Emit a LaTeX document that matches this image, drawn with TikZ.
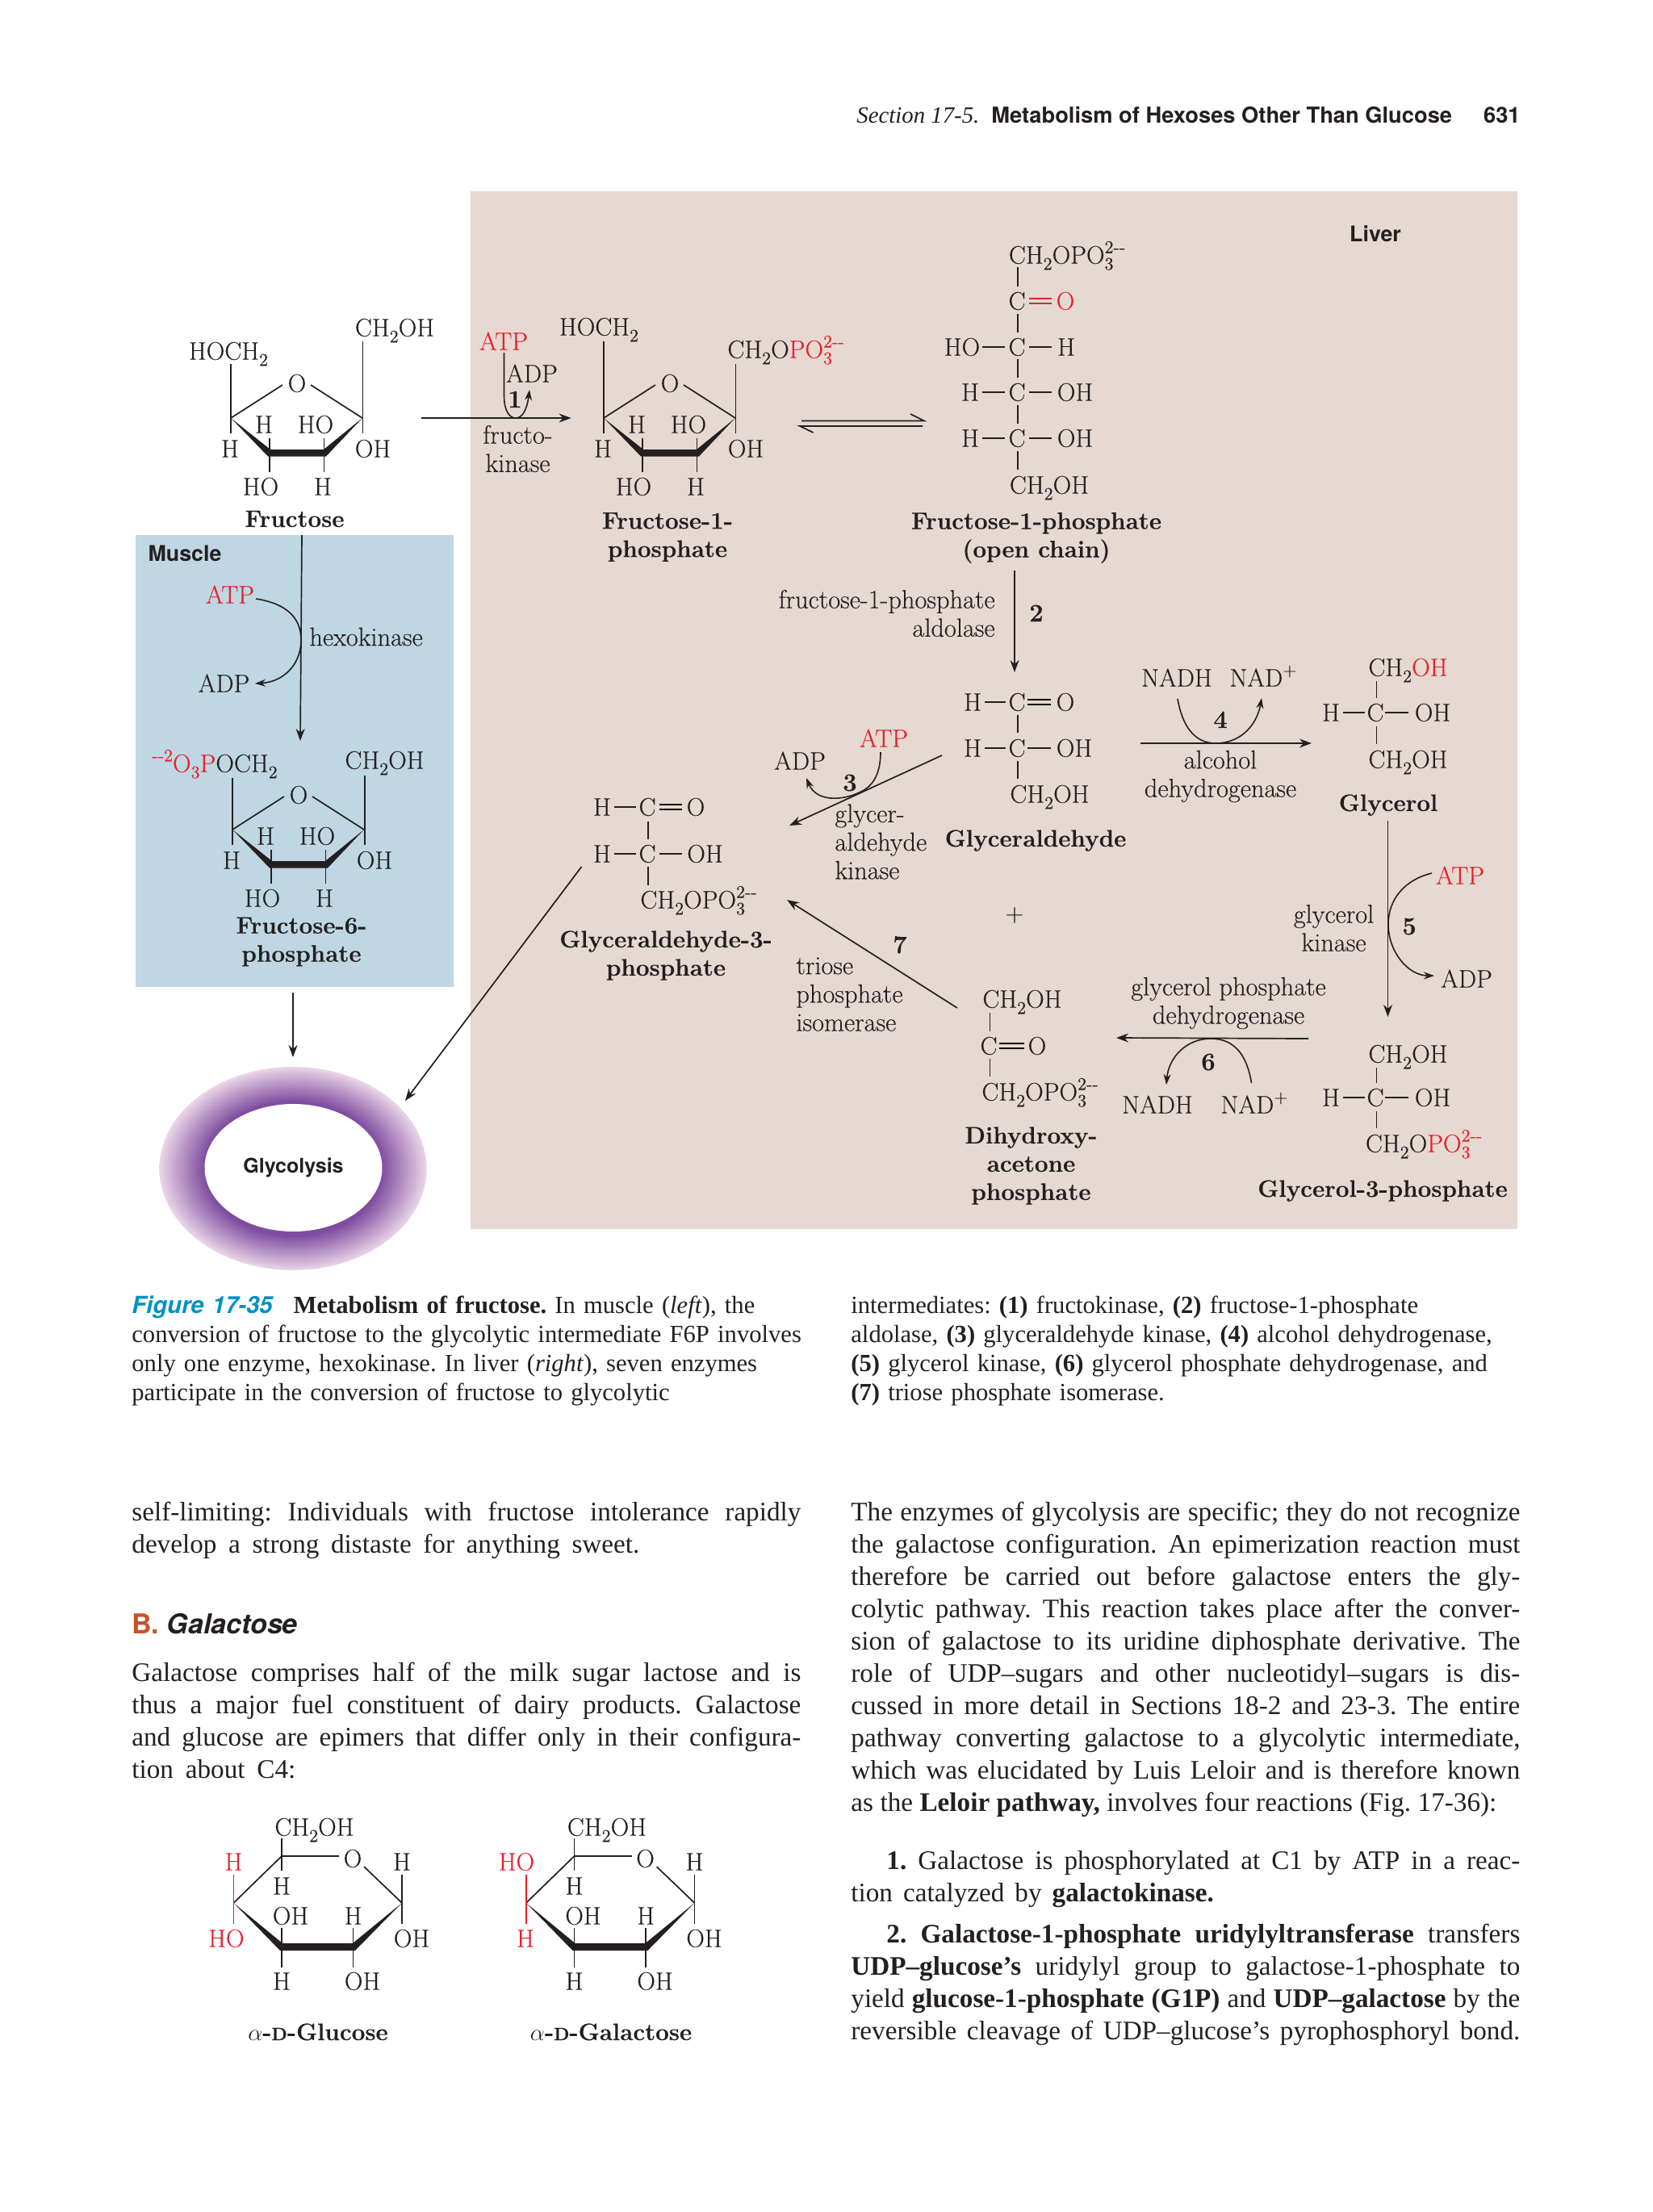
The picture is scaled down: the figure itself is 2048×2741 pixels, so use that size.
\documentclass[tikz,border=0pt]{standalone}
\usepackage{fontspec}
\setsansfont{TeX Gyre Heros}
\newfontfamily\bodyfont{Liberation Serif}
\newfontfamily\chemfam[FakeBold=0.2,BoldFeatures={FakeBold=0.25}]{Latin Modern Roman}
\usepackage{xcolor}
\usetikzlibrary{arrows.meta,shapes.geometric}

\definecolor{liverbg}{HTML}{E5D9D2}
\definecolor{musclebg}{HTML}{BED7E3}
\definecolor{inkred}{HTML}{E8202C}
\definecolor{inkdark}{HTML}{231F20}
\definecolor{figblue}{HTML}{0091C4}
\definecolor{headorange}{HTML}{C8532A}
\definecolor{ringdark}{HTML}{7F4C9F}
\definecolor{ringpale}{HTML}{EAD6E8}
\pgfdeclareradialshading{glyring}{\pgfpointorigin}{color(0bp)=(ringdark); color(16.5bp)=(ringdark); color(25bp)=(ringpale); color(50bp)=(ringpale)}

\newcommand{\chemfont}{\chemfam\fontsize{15.7}{18}\selectfont}
\newcommand{\namefont}{\chemfam\fontsize{14.8}{17.5}\bfseries\selectfont}
\newcommand{\lowr}[1]{\raisebox{-0.24em}{\fontsize{11}{11}\selectfont #1}}
\newcommand{\chsup}[1]{\raisebox{0.42em}{\fontsize{11}{11}\selectfont #1}}
\newcommand{\POsup}{\makebox[0pt][l]{\chsup{2--}}\lowr{3}\hspace{1em}}
\newcommand{\lastl}[2]{\makebox[#1][s]{\spaceskip=0.25em plus 0.4em minus 0.1em\relax\strut #2}}
\newcommand{\fl}[1]{\lastl{414.5pt}{#1}\\}
\newcommand{\alphad}[1]{$\alpha${\bfseries -{\fontsize{11}{11}\selectfont D}-#1}}

% furanose ring, shared by the three fructose structures
\newcommand{\furanose}[3]{%
  \begin{scope}[shift={(#2,#3)}, name prefix=#1-]
    \draw [bond] (286,518) -- (350,477);
    \draw [bond] (385,477) -- (449,518);
    \fill [inkdark] (286,518) -- (335,557) -- (401,557) -- (449,518) -- (404,565.5) -- (332,565.5) -- cycle;
    \draw [bond] (334,543) -- (334,585);
    \draw [bond] (401.5,543) -- (401.5,585);
    \node (o) [chem] at (368,475) {O};
    \node (h1) [chem] at (327,526) {H};
    \node (ho1) [chem] at (391,526) {HO};
    \node (h2) [chem] at (285,556) {H};
    \node (oh) [chem] at (462,556) {OH};
    \node (ho2) [chem] at (323,603) {HO};
    \node (h3) [chem] at (400,603) {H};
  \end{scope}}

% pyranose ring, the two red groups swap between the sugars
\newcommand{\pyranose}[6]{%
  \begin{scope}[shift={(#2,1)}, name prefix=#1-]
    \draw [bond] (349,2299) -- (420,2299);
    \draw [bond] (451,2312) -- (498,2357);
    \draw [bond] (349,2299) -- (289.4,2357);
    \fill [inkdark] (289.4,2357) -- (350,2407) -- (437,2407) -- (498,2357) -- (440,2416) -- (347,2416) -- cycle;
    \draw [bond] (349,2277) -- (349,2317);
    \draw [bond] (498,2322) -- (498,2383);
    \draw [bond, inkred] (289.4,2322) -- (289.4,2383);
    \draw [bond] (349,2388) -- (349,2437);
    \draw [bond] (437.6,2388) -- (437.6,2437);
    \node (ch) [chem, anchor=west] at (340,2263) {CH\lowr{2}OH};
    \node (o) [chem] at (437,2302) {O};
    \node (h1) [chem] at (498,2306) {H};
    \node (top) [chem, text=inkred] at (#4,2306) {#3};
    \node (h2) [chem] at (349,2336) {H};
    \node (oh1) [chem] at (360,2373) {OH};
    \node (h3) [chem] at (437.6,2373) {H};
    \node (bot) [chem, text=inkred] at (#6,2401) {#5};
    \node (oh2) [chem] at (510,2401) {OH};
    \node (h4) [chem] at (349,2454) {H};
    \node (oh3) [chem] at (449,2454) {OH};
  \end{scope}}

\begin{document}
\begin{tikzpicture}[
    x=0.5pt, y=-0.5pt,
    text=inkdark,
    bond/.style={line width=0.85pt, draw=inkdark},
    dbond/.style={line width=0.75pt, double=liverbg, double distance=2.2pt},
    chem/.style={inner sep=0pt, font=\chemfont, text height=10.7pt, text depth=0pt},
    enzyme/.style={inner sep=0pt, font=\chemfam\fontsize{16.2}{17.6}\selectfont},
    chemname/.style={inner sep=0pt, font=\namefont, text height=10pt, text depth=0pt},
    stepnum/.style={inner sep=0pt, font=\chemfam\fontsize{15.5}{18}\bfseries\selectfont, text height=10pt, text depth=0pt},
    regionname/.style={inner sep=0pt, font=\fontsize{13.4}{15}\sffamily\bfseries\selectfont},
    rxn/.style={-{Stealth[length=7.5pt, width=5.5pt]}, line width=0.85pt, draw=inkdark},
    cofactor/.style={-{Stealth[length=6.5pt, width=4.5pt]}, line width=0.8pt, draw=inkdark},
    bodytext/.style={inner sep=0pt, anchor=north west, text width=414.5pt, align=left, font=\bodyfont\frenchspacing\fontsize{16.6}{20}\selectfont},
    captiontext/.style={inner sep=0pt, anchor=north west, text width=440pt, align=left, font=\bodyfont\frenchspacing\fontsize{15.3}{18}\selectfont}
  ]
    \useasboundingbox (0,0) rectangle (2048,2741);

    % panels
    \fill [liverbg] (583,237) rectangle (1880,1523);
    \fill [musclebg] (168,663) rectangle (562,1223);
    \node (liver) [regionname] at (1704,290) {Liver};
    \node (muscle) [regionname] at (229,686) {Muscle};

    % running head
    \node (section) [inner sep=0pt, anchor=base west, font=\bodyfont\itshape\fontsize{14.4}{18}\selectfont] at (1061,152) {Section 17-5.};
    \node (headline) [inner sep=0pt, anchor=base west, font=\fontsize{13.65}{18}\sffamily\bfseries\selectfont] at (1228,152) {Metabolism of Hexoses Other Than Glucose};
    \node (pageno) [inner sep=0pt, anchor=base east, font=\fontsize{13.65}{18}\sffamily\bfseries\selectfont] at (1884,152) {631};

    % fructose
    \furanose{fru}{0}{0}
    \draw [bond] (286,451) -- (286,537);
    \draw [bond] (449.6,423) -- (449.6,537);
    \node (fruhoch) [chem] at (283,435) {HOCH\lowr{2}};
    \node (fruch) [chem] at (489,406) {CH\lowr{2}OH};
    \node (fruname) [chemname] at (365,643) {Fructose};

    % fructose-1-phosphate, ring form
    \furanose{fop}{462}{0}
    \draw [bond] (748,423) -- (748,537);
    \draw [bond] (911.6,451) -- (911.6,537);
    \node (fophoch) [chem] at (742,405) {HOCH\lowr{2}};
    \node (fopch) [chem, anchor=west] at (901,433) {CH\lowr{2}O\textcolor{inkred}{PO\POsup}};
    \node (fopname) [chemname, align=center, text height=, text depth=] at (827,665.5) {Fructose-1-\\phosphate};

    % fructokinase
    \coordinate (froma) at (522,518);
    \coordinate (fromb) at (707.6,518);
    \draw [rxn] (froma) -- (fromb);
    \node (atpa) [chem, text=inkred] at (624,423) {ATP};
    \node (adpa) [chem] at (659,463) {ADP};
    \node (stepa) [stepnum] at (638,495) {1};
    \node (enza) [enzyme, align=center] at (641.5,556) {fructo-\\kinase};
    \coordinate (atpaend) at (624.5,437);
    \coordinate (adpaend) at (656,483);
    \draw [cofactor] (atpaend) -- (624.5,490) .. controls (624.5,510) and (632,519) .. (640,518) .. controls (650,517) and (654,500) .. (adpaend);

    % ring opening
    \draw [bond] (993,521.5) -- (1145,521.5) -- (1128,513);
    \draw [bond] (1143,528) -- (991,528) -- (1007.5,536);

    % open chain
    \node (ocph) [chem, anchor=west] at (1249.5,316) {CH\lowr{2}OPO\POsup};
    \node (occ1) [chem] at (1260,373) {C};
    \draw [dbond, inkred] (1275,373) -- (1303,373);
    \node (oco) [chem, text=inkred] at (1320,373) {O};
    \node (ocho) [chem] at (1192,430) {HO};
    \node (occ2) [chem] at (1260,430) {C};
    \node (och) [chem] at (1321,430) {H};
    \node (och2) [chem] at (1202,486) {H};
    \node (occ3) [chem] at (1260,486) {C};
    \node (ocoh2) [chem] at (1332,486) {OH};
    \node (och3) [chem] at (1202,543) {H};
    \node (occ4) [chem] at (1260,543) {C};
    \node (ocoh3) [chem] at (1332,543) {OH};
    \node (occh) [chem, anchor=west] at (1250.5,601) {CH\lowr{2}OH};
    \foreach \ya/\yb in {331/355, 389/412, 445/468, 502/525, 559/582}
      \draw [bond] (1261,\ya) -- (1261,\yb);
    \foreach \yr in {430, 486, 543} {
      \draw [bond] (1217,\yr) -- (1245,\yr);
      \draw [bond] (1275,\yr) -- (1303,\yr);
    }
    \node (ocname) [chemname, align=center, text height=, text depth=] at (1284,666.5) {Fructose-1-phosphate\\(open chain)};

    % aldolase
    \coordinate (fromc) at (1257,707);
    \coordinate (glarrow) at (1257,833);
    \draw [rxn] (fromc) -- (glarrow);
    \node (enzb) [enzyme, anchor=east, align=right] at (1233,760) {fructose-1-phosphate\\aldolase};
    \node (stepb) [stepnum] at (1284,760) {2};

    % glyceraldehyde
    \node (glh1) [chem] at (1205,870) {H};
    \node (glc1) [chem] at (1260,870) {C};
    \draw [dbond] (1273,870) -- (1302,870);
    \node (glo) [chem] at (1320,870) {O};
    \node (glh2) [chem] at (1205,927) {H};
    \node (glc2) [chem] at (1260,927) {C};
    \node (gloh) [chem] at (1331,927) {OH};
    \node (glch) [chem, anchor=west] at (1251,984) {CH\lowr{2}OH};
    \draw [bond] (1220,870) -- (1246,870);
    \draw [bond] (1220,927) -- (1246,927);
    \draw [bond] (1273,927) -- (1302,927);
    \draw [bond] (1261,886) -- (1261,908);
    \draw [bond] (1261,943) -- (1261,965);
    \node (glname) [chemname] at (1283,1039) {Glyceraldehyde};

    % glyceraldehyde kinase
    \coordinate (gla) at (1167,936);
    \coordinate (glb) at (978,1023);
    \draw [rxn] (gla) -- (glb);
    \node (atpc) [chem, text=inkred] at (1095,915) {ATP};
    \node (adpc) [chem] at (991,943) {ADP};
    \node (stepc) [stepnum] at (1053,970) {3};
    \node (enzc) [enzyme, anchor=north west, align=left] at (1034,996) {glycer-\\aldehyde\\kinase};
    \coordinate (atpcend) at (1091,932);
    \coordinate (adpcend) at (999,964);
    \draw [cofactor] (atpcend) .. controls (1091,955) and (1084,970) .. (1072,978) .. controls (1050,992) and (1012,996) .. (adpcend);

    % glyceraldehyde-3-phosphate
    \node (gaph1) [chem] at (746,1000) {H};
    \node (gapc1) [chem] at (802,1000) {C};
    \draw [dbond] (817,1000) -- (845,1000);
    \node (gapo) [chem] at (862,1000) {O};
    \node (gaph2) [chem] at (746,1058) {H};
    \node (gapc2) [chem] at (802,1058) {C};
    \node (gapoh) [chem] at (873.5,1058) {OH};
    \node (gapph) [chem, anchor=west] at (793,1115) {CH\lowr{2}OPO\POsup};
    \draw [bond] (761,1000) -- (788,1000);
    \draw [bond] (761,1058) -- (788,1058);
    \draw [bond] (817,1058) -- (845,1058);
    \draw [bond] (803,1018) -- (803,1040);
    \draw [bond] (803,1074) -- (803,1097);
    \node (gapname) [chemname, align=center, text height=, text depth=] at (825,1184) {Glyceraldehyde-3-\\phosphate};

    % alcohol dehydrogenase
    \coordinate (fromd) at (1413,921);
    \coordinate (tod) at (1625,921);
    \draw [rxn] (fromd) -- (tod);
    \node (nadhd) [chem] at (1458,840) {NADH};
    \node (nadd) [chem] at (1565,840) {NAD\chsup{+}};
    \node (stepd) [stepnum] at (1512,892) {4};
    \node (enzd) [enzyme, align=center] at (1512,962) {alcohol\\dehydrogenase};
    \coordinate (nadhdend) at (1459,866);
    \coordinate (naddend) at (1563,865);
    \draw [cofactor] (nadhdend) .. controls (1465,900) and (1480,921) .. (1506,921) .. controls (1540,921) and (1558,895) .. (naddend);

    % glycerol
    \node (golch1) [chem, anchor=west] at (1695,827) {CH\lowr{2}\textcolor{inkred}{OH}};
    \node (golh) [chem] at (1649,883) {H};
    \node (golc) [chem] at (1704,883) {C};
    \node (goloh) [chem] at (1775,883) {OH};
    \node (golch2) [chem, anchor=west] at (1695,941) {CH\lowr{2}OH};
    \draw [bond] (1664,883) -- (1691,883);
    \draw [bond] (1716,883) -- (1745,883);
    \draw [bond] (1705.5,844) -- (1705.5,865);
    \draw [bond] (1705.5,900) -- (1705.5,922);
    \node (golname) [chemname] at (1720,995) {Glycerol};

    % glycerol kinase
    \coordinate (frome) at (1719.5,1017);
    \coordinate (toe) at (1719.5,1260);
    \draw [rxn] (frome) -- (toe);
    \node (atpe) [chem, text=inkred] at (1809,1085) {ATP};
    \node (adpe) [chem] at (1817,1213) {ADP};
    \node (stepe) [stepnum] at (1746,1148) {5};
    \node (enze) [enzyme, align=center] at (1652.5,1150) {glycerol\\kinase};
    \coordinate (atpeend) at (1774,1082);
    \coordinate (adpeend) at (1777,1209);
    \draw [cofactor] (atpeend) .. controls (1740,1090) and (1720,1115) .. (1720,1145) .. controls (1720,1180) and (1745,1209) .. (adpeend);

    % glycerol-3-phosphate
    \node (gopch) [chem, anchor=west] at (1695,1306) {CH\lowr{2}OH};
    \node (goph) [chem] at (1649,1360) {H};
    \node (gopc) [chem] at (1704,1360) {C};
    \node (gopoh) [chem] at (1775,1360) {OH};
    \node (gopph) [chem, anchor=west] at (1691.5,1417) {CH\lowr{2}O\textcolor{inkred}{PO\POsup}};
    \draw [bond] (1664,1360) -- (1691,1360);
    \draw [bond] (1716,1360) -- (1745,1360);
    \draw [bond] (1705.5,1323) -- (1705.5,1342);
    \draw [bond] (1705.5,1377) -- (1705.5,1398);
    \node (gopname) [chemname] at (1713,1473) {Glycerol-3-phosphate};

    % glycerol phosphate dehydrogenase
    \coordinate (fromf) at (1621,1287);
    \coordinate (tof) at (1383,1286);
    \draw [rxn] (fromf) -- (tof);
    \node (enzf) [enzyme, align=center] at (1522,1243) {glycerol phosphate\\dehydrogenase};
    \node (stepf) [stepnum] at (1497,1316) {6};
    \node (nadhf) [chem] at (1434,1369) {NADH};
    \node (nadf) [chem] at (1554,1369) {NAD\chsup{+}};
    \coordinate (nadfend) at (1550.5,1342);
    \coordinate (nadhfend) at (1445,1344);
    \draw [cofactor] (nadfend) .. controls (1545,1308) and (1530,1287) .. (1500,1287) .. controls (1470,1287) and (1448,1310) .. (nadhfend);

    % dihydroxyacetone phosphate
    \node (dapch) [chem, anchor=west] at (1217,1238) {CH\lowr{2}OH};
    \node (dapc) [chem] at (1225,1296) {C};
    \draw [dbond] (1238,1296) -- (1269,1296);
    \node (dapo) [chem] at (1285,1296) {O};
    \node (dapph) [chem, anchor=west] at (1216,1353) {CH\lowr{2}OPO\POsup};
    \draw [bond] (1226.5,1255) -- (1226.5,1278);
    \draw [bond] (1226.5,1312) -- (1226.5,1334);
    \node (dapname) [chemname, align=center, text height=, text depth=] at (1277.5,1444.5) {Dihydroxy-\\acetone\\phosphate};

    % triose phosphate isomerase
    \coordinate (fromg) at (1186,1249);
    \coordinate (tog) at (975,1115);
    \draw [rxn] (fromg) -- (tog);
    \node (stepg) [stepnum] at (1115,1171) {7};
    \node (enzg) [enzyme, anchor=west, align=left] at (986,1232) {triose\\phosphate\\isomerase};
    \node (plussign) [chem] at (1257,1131) {+};

    % muscle path
    \coordinate (fromm) at (374,663);
    \coordinate (tom) at (372,918);
    \draw [rxn] (fromm) -- (tom);
    \node (atpm) [chem, text=inkred] at (285,737) {ATP};
    \node (adpm) [chem] at (277.5,847) {ADP};
    \node (enzm) [enzyme] at (453.6,789) {hexokinase};
    \coordinate (atpmend) at (317,742);
    \coordinate (adpmend) at (316,847);
    \draw [cofactor] (atpmend) .. controls (350,747) and (374,762) .. (373,795) .. controls (372,825) and (350,845) .. (adpmend);

    % fructose-6-phosphate
    \furanose{fsp}{2}{510}
    \draw [bond] (288,964) -- (288,1047);
    \draw [bond] (452,961) -- (452,1047);
    \node (fsphoch) [chem, anchor=west] at (188,946) {\textcolor{inkred}{\chsup{--2}O\lowr{3}P}OCH\lowr{2}};
    \node (fspch) [chem] at (476.5,942) {CH\lowr{2}OH};
    \node (fspname) [chemname, align=center, text height=, text depth=] at (373.5,1167) {Fructose-6-\\phosphate};

    % glycolysis
    \node (ring) [ellipse, inner sep=0pt, minimum width=165.6pt, minimum height=126pt, shading=glyring] at (363,1448) {};
    \node (glycolysis) [ellipse, inner sep=0pt, fill=white, minimum width=110pt, minimum height=79pt, font=\fontsize{12.5}{15}\sffamily\bfseries\selectfont] at (363.5,1447) {Glycolysis};
    \coordinate (fromh) at (363,1230);
    \coordinate (toh) at (363,1310);
    \draw [rxn] (fromh) -- (toh);
    \coordinate (fromi) at (720.5,1074);
    \coordinate (toi) at (502,1364);
    \draw [rxn] (fromi) -- (toi);

    % caption
    \node (capleft) [captiontext] at (163,1601.5) {\strut\textcolor{figblue}{\fontsize{14.6}{18}\sffamily\bfseries\itshape\selectfont Figure 17-35}\hspace{8pt} \textbf{Metabolism of fructose.} In muscle (\textit{left}), the\\
      \strut conversion of fructose to the glycolytic intermediate F6P involves\\
      \strut only one enzyme, hexokinase. In liver (\textit{right}), seven enzymes\\
      \strut participate in the conversion of fructose to glycolytic};
    \node (capright) [captiontext] at (1054,1601.5) {\strut intermediates: \textbf{(1)} fructokinase, \textbf{(2)} fructose-1-phosphate\\
      \strut aldolase, \textbf{(3)} glyceraldehyde kinase, \textbf{(4)} alcohol dehydrogenase,\\
      \strut \textbf{(5)} glycerol kinase, \textbf{(6)} glycerol phosphate dehydrogenase, and\\
      \strut \textbf{(7)} triose phosphate isomerase.};

    % left column
    \node (bodya) [bodytext] at (163,1856) {\fl{self-limiting: Individuals with fructose intolerance rapidly}
      \lastl{314.5pt}{develop a strong distaste for anything sweet.}};
    \node (headb) [inner sep=0pt, anchor=base west, font=\fontsize{17}{20}\sffamily\bfseries\selectfont] at (163,2024) {\textcolor{headorange}{B.} \textit{Galactose}};
    \node (bodyb) [bodytext] at (163,2055) {\fl{Galactose comprises half of the milk sugar lactose and is}
      \fl{thus a major fuel constituent of dairy products. Galactose}
      \fl{and glucose are epimers that differ only in their configura-}
      \lastl{101.5pt}{tion about C4:}};

    % right column
    \node (bodyc) [bodytext] at (1054,1856) {\fl{The enzymes of glycolysis are specific; they do not recognize}
      \fl{the galactose configuration. An epimerization reaction must}
      \fl{therefore be carried out before galactose enters the gly-}
      \fl{colytic pathway. This reaction takes place after the conver-}
      \fl{sion of galactose to its uridine diphosphate derivative. The}
      \fl{role of UDP–sugars and other nucleotidyl–sugars is dis-}
      \fl{cussed in more detail in Sections 18-2 and 23-3. The entire}
      \fl{pathway converting galactose to a glycolytic intermediate,}
      \fl{which was elucidated by Luis Leloir and is therefore known}
      \lastl{400pt}{as the \textbf{Leloir pathway,} involves four reactions (Fig. 17-36):}};
    \node (itema) [bodytext] at (1054,2288) {\fl{\hspace*{22pt}\textbf{1.} Galactose is phosphorylated at C1 by ATP in a reac-}
      \lastl{224.7pt}{tion catalyzed by \textbf{galactokinase.}}};
    \node (itemb) [bodytext] at (1054,2379) {\fl{\hspace*{22pt}\textbf{2.} \textbf{Galactose-1-phosphate uridylyltransferase} transfers}
      \fl{\textbf{UDP–glucose’s} uridylyl group to galactose-1-phosphate to}
      \fl{yield \textbf{glucose-1-phosphate (G1P)} and \textbf{UDP–galactose} by the}
      \lastl{414.5pt}{reversible cleavage of UDP–glucose’s pyrophosphoryl bond.}};

    % sugars
    \pyranose{glc}{0}{H}{289.4}{HO}{280.4}
    \pyranose{gal}{362.5}{HO}{277.5}{H}{288.5}
    \node (glcname) [chemname] at (394,2518) {\alphad{Glucose}};
    \node (galname) [chemname] at (757,2518) {\alphad{Galactose}};
  \end{tikzpicture}
\end{document}
